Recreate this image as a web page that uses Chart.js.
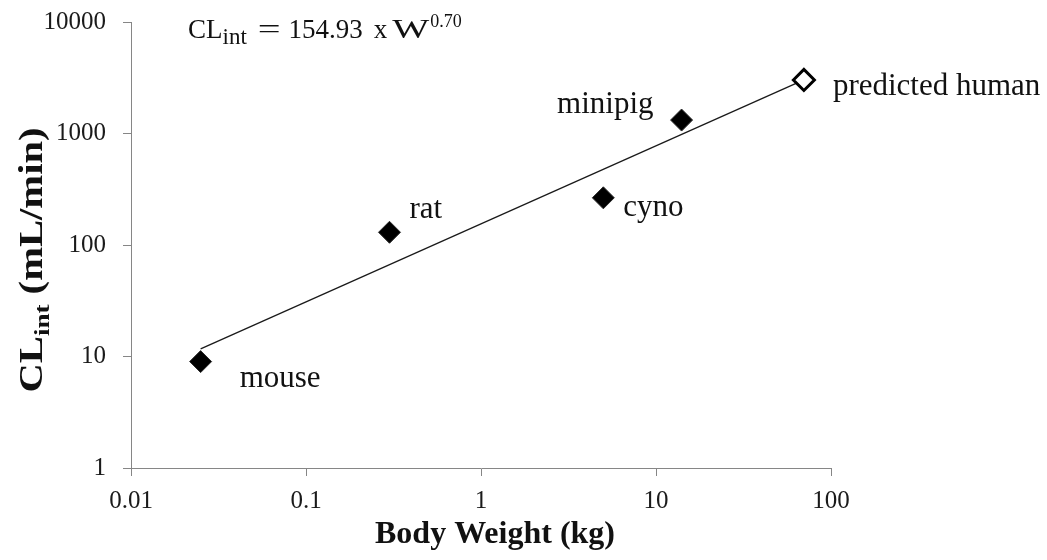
<!DOCTYPE html>
<html>
<head>
<meta charset="utf-8">
<script src="https://cdn.jsdelivr.net/npm/chart.js@4.4.1/dist/chart.umd.min.js"></script>
<style>
  html, body { margin: 0; padding: 0; background: #fff; }
  #wrap { width: 1047px; height: 560px; }
</style>
</head>
<body>
<div id="wrap"><canvas id="chart" width="1047" height="560"></canvas></div>
<script>
// Values: body weight (kg) vs CLint (mL/min)
const speciesNames = ['mouse', 'rat', 'cyno', 'minipig'];
const speciesWeight = [0.025, 0.3, 5, 14];
const speciesClint = [9, 130, 265, 1320];

const humanName = 'predicted human';
const humanWeight = [70];
const humanClint = [3020];

// Allometric fit line, its two drawn endpoints
const fitWeight = [0.025, 70];
const fitClint = [11.7, 3030];

const xTicks = [0.01, 0.1, 1, 10, 100];
const xTickLabels = ['0.01', '0.1', '1', '10', '100'];
const yTicks = [1, 10, 100, 1000, 10000];
const yTickLabels = ['1', '10', '100', '1000', '10000'];

const SERIF = "'Liberation Serif', 'Times New Roman', serif";
const AXIS_GREY = '#868686';
const INK = '#111111';

// Where each point label sits relative to its marker (pixels)
const labelOffsets = {
  'mouse': { dx: 39, dy: 25, align: 'left' },
  'rat': { dx: 20, dy: -14, align: 'left' },
  'cyno': { dx: 20, dy: 18, align: 'left' },
  'minipig': { dx: -28, dy: -7, align: 'right' },
  'predicted human': { dx: 29, dy: 15, align: 'left' }
};

/**
 * Draw a run of text pieces (for sub/superscripts) starting at x.
 * sx stretches a piece horizontally.
 */
function drawRuns(ctx, runs, x, y) {
  let cx = x;
  runs.forEach(r => {
    cx += r.gap || 0;
    const sx = r.sx || 1;
    ctx.font = `${r.bold ? 'bold ' : ''}${r.size}px ${SERIF}`;
    ctx.save();
    ctx.translate(cx, y + (r.dy || 0));
    ctx.scale(sx, 1);
    ctx.fillText(r.text, 0, 0);
    ctx.restore();
    cx += ctx.measureText(r.text).width * sx;
  });
  return cx - x;
}

function runsWidth(ctx, runs) {
  let w = 0;
  runs.forEach(r => {
    ctx.font = `${r.bold ? 'bold ' : ''}${r.size}px ${SERIF}`;
    w += (r.gap || 0) + ctx.measureText(r.text).width * (r.sx || 1);
  });
  return w;
}

const textPlugin = {
  id: 'textPlugin',
  afterDraw(chart) {
    const ctx = chart.ctx;
    const xs = chart.scales.x;
    const ys = chart.scales.y;
    ctx.save();
    ctx.fillStyle = INK;
    ctx.textBaseline = 'alphabetic';

    // point labels
    ctx.font = `31px ${SERIF}`;
    const allNames = speciesNames.concat([humanName]);
    const allW = speciesWeight.concat(humanWeight);
    const allC = speciesClint.concat(humanClint);
    allNames.forEach((name, i) => {
      const off = labelOffsets[name];
      const px = xs.getPixelForValue(allW[i]);
      const py = ys.getPixelForValue(allC[i]);
      ctx.textAlign = off.align;
      ctx.fillText(name, px + off.dx, py + off.dy);
    });

    // fit equation
    ctx.textAlign = 'left';
    drawRuns(ctx, [
      { text: 'CL', size: 27 },
      { text: 'int', size: 23, dy: 6 },
      { text: '=', size: 27, gap: 11, sx: 1.5 },
      { text: '154.93', size: 27, gap: 8 },
      { text: 'x', size: 27, gap: 11 },
      { text: 'W', size: 27, gap: 5, sx: 1.45 },
      { text: '0.70', size: 18, dy: -11, gap: 1 }
    ], 188, 38);

    // x axis title
    ctx.font = `bold 32px ${SERIF}`;
    ctx.textAlign = 'center';
    ctx.fillText('Body Weight (kg)', 495, 543);

    // y axis title, rotated, with subscript (reference text is stretched along its length)
    const yRuns = [
      { text: 'CL', size: 33, bold: true },
      { text: 'int', size: 22, bold: true, dy: 7 },
      { text: ' (mL/min)', size: 33, bold: true }
    ];
    ctx.translate(42, 260);
    ctx.rotate(-Math.PI / 2);
    ctx.textAlign = 'left';
    const w = runsWidth(ctx, yRuns);
    const stretch = 265 / w;
    ctx.scale(stretch, 1);
    drawRuns(ctx, yRuns, -w / 2, 0);
    ctx.restore();
  }
};

// keep tick-label overhang from shrinking the plot area
function fixScale(size) {
  return s => {
    if (s.isHorizontal()) {
      s.height = size;
    } else {
      s.width = size;
    }
    s.paddingTop = 0;
    s.paddingBottom = 0;
    s.paddingLeft = 0;
    s.paddingRight = 0;
  };
}

Chart.defaults.font.family = SERIF;
Chart.defaults.color = INK;

const ctx = document.getElementById('chart').getContext('2d');
new Chart(ctx, {
  type: 'scatter',
  data: {
    datasets: [
      {
        label: 'fit',
        type: 'line',
        data: fitWeight.map((w, i) => ({ x: w, y: fitClint[i] })),
        borderColor: '#1a1a1a',
        borderWidth: 1.3,
        pointRadius: 0,
        fill: false,
        tension: 0,
        order: 3
      },
      {
        label: 'species',
        data: speciesWeight.map((w, i) => ({ x: w, y: speciesClint[i] })),
        pointStyle: 'rectRot',
        pointRadius: 11,
        backgroundColor: '#000000',
        borderColor: '#2a2a2a',
        borderWidth: 1,
        order: 1
      },
      {
        label: 'human',
        data: humanWeight.map((w, i) => ({ x: w, y: humanClint[i] })),
        pointStyle: 'rectRot',
        pointRadius: 10.5,
        backgroundColor: '#ffffff',
        borderColor: '#000000',
        borderWidth: 3,
        order: 0
      }
    ]
  },
  options: {
    responsive: false,
    animation: false,
    layout: { padding: { left: 0, right: 216, top: 22, bottom: 0 } },
    plugins: {
      legend: { display: false },
      tooltip: { enabled: false }
    },
    scales: {
      x: {
        type: 'logarithmic',
        position: 'bottom',
        min: 0.01,
        max: 100,
        afterBuildTicks: s => { s.ticks = xTicks.map(v => ({ value: v })); },
        afterFit: fixScale(92),
        ticks: {
          callback: (v, i) => xTickLabels[i],
          font: { size: 25 },
          color: '#1a1a1a',
          padding: 10,
          maxRotation: 0,
          autoSkip: false
        },
        grid: {
          display: true,
          drawOnChartArea: false,
          drawTicks: true,
          tickLength: 8,
          color: AXIS_GREY,
          lineWidth: 1
        },
        border: { display: true, color: AXIS_GREY, width: 1 }
      },
      y: {
        type: 'logarithmic',
        position: 'left',
        min: 1,
        max: 10000,
        afterBuildTicks: s => { s.ticks = yTicks.map(v => ({ value: v })); },
        afterFit: fixScale(131),
        ticks: {
          callback: (v, i) => yTickLabels[i],
          font: { size: 25 },
          color: '#1a1a1a',
          padding: 17,
          autoSkip: false
        },
        grid: {
          display: true,
          drawOnChartArea: false,
          drawTicks: true,
          tickLength: 8,
          color: AXIS_GREY,
          lineWidth: 1
        },
        border: { display: true, color: AXIS_GREY, width: 1 }
      }
    }
  },
  plugins: [textPlugin]
});
</script>
</body>
</html>
